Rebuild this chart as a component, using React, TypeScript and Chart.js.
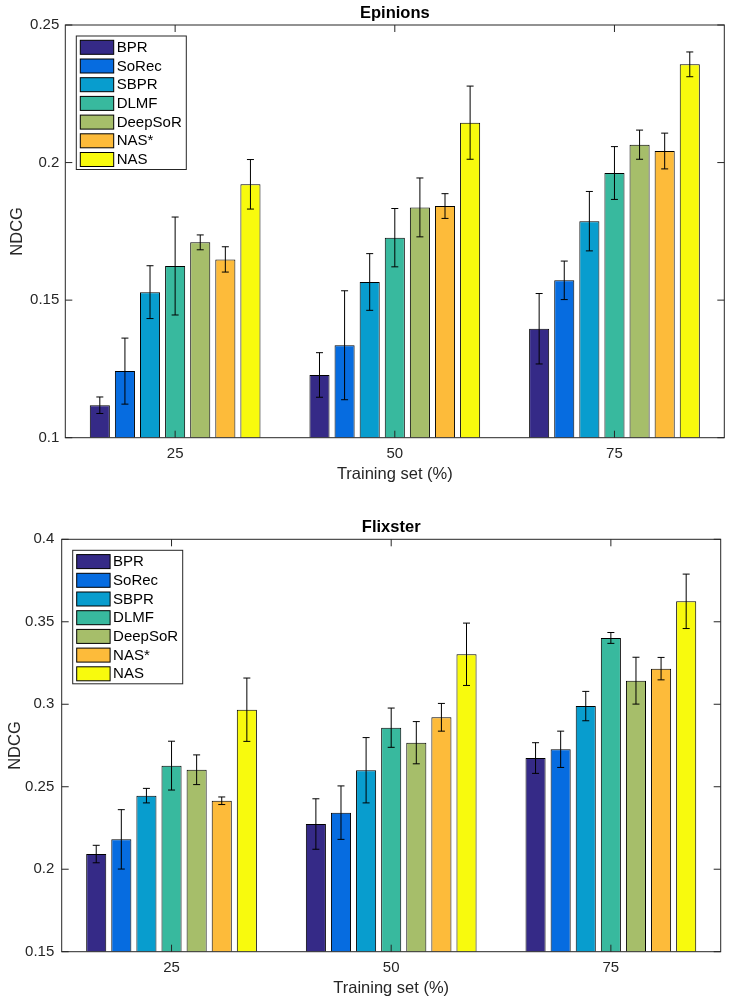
import { useEffect, useRef } from 'react';
import { Chart, registerables } from 'chart.js';

Chart.register(...registerables);

const FONT = '"Liberation Sans", Arial, Helvetica, sans-serif';
const INK = '#262626';

// Training-set sizes (x categories) and the compared methods
const categories = ['25', '50', '75'];
const methods = ['BPR', 'SoRec', 'SBPR', 'DLMF', 'DeepSoR', 'NAS*', 'NAS'];
const methodColors = ['#352A87', '#066CE0', '#089DCE', '#38B99E', '#A6BE6A', '#FDBB3A', '#F8FA0D'];

// Epinions: NDCG mean per method (rows) at 25/50/75 %, and the error-bar half widths
const epinionsMean = [
  [0.1118, 0.1228, 0.1396],
  [0.1242, 0.1336, 0.1572],
  [0.1529, 0.1566, 0.1787],
  [0.1624, 0.1727, 0.1962],
  [0.171, 0.1837, 0.2065],
  [0.1648, 0.1842, 0.2042],
  [0.1921, 0.2145, 0.2357],
];
const epinionsErr = [
  [0.003, 0.0081, 0.0128],
  [0.012, 0.0198, 0.007],
  [0.0096, 0.0103, 0.0108],
  [0.0178, 0.0106, 0.0096],
  [0.0027, 0.0107, 0.0053],
  [0.0046, 0.0045, 0.0065],
  [0.009, 0.0133, 0.0045],
];
const epinionsTicks = [0.1, 0.15, 0.2, 0.25];

// Flixster
const flixsterMean = [
  [0.2092, 0.2274, 0.2674],
  [0.2181, 0.2343, 0.2727],
  [0.2446, 0.26, 0.2989],
  [0.2628, 0.2858, 0.3402],
  [0.2603, 0.2767, 0.3143],
  [0.2415, 0.2921, 0.3216],
  [0.2967, 0.3303, 0.3624],
];
const flixsterErr = [
  [0.0053, 0.0153, 0.0093],
  [0.018, 0.0162, 0.011],
  [0.0044, 0.0198, 0.0089],
  [0.0148, 0.0119, 0.0033],
  [0.009, 0.0128, 0.0142],
  [0.0023, 0.0084, 0.0068],
  [0.0192, 0.0189, 0.0165],
];
const flixsterTicks = [0.15, 0.2, 0.25, 0.3, 0.35, 0.4];

const errorBars = {
  id: 'errorBars',
  afterDatasetsDraw(chart: any) {
    const ctx = chart.ctx;
    const ys = chart.scales.y;
    ctx.save();
    ctx.strokeStyle = '#000';
    ctx.lineWidth = 1;
    chart.data.datasets.forEach((ds: any, di: number) => {
      const meta = chart.getDatasetMeta(di);
      meta.data.forEach((el: any, i: number) => {
        const v = ds.data[i];
        const e = ds.errors[i];
        const hi = ys.getPixelForValue(v + e);
        const lo = ys.getPixelForValue(v - e);
        const x = el.x;
        ctx.beginPath();
        ctx.moveTo(x, hi);
        ctx.lineTo(x, lo);
        ctx.moveTo(x - 3.5, hi);
        ctx.lineTo(x + 3.5, hi);
        ctx.moveTo(x - 3.5, lo);
        ctx.lineTo(x + 3.5, lo);
        ctx.stroke();
      });
    });
    ctx.restore();
  },
};

const axesBox = {
  id: 'axesBox',
  afterDatasetsDraw(chart: any) {
    const ctx = chart.ctx;
    const { left, right, top, bottom } = chart.chartArea;
    const xs = chart.scales.x;
    const ys = chart.scales.y;
    const len = 7;
    ctx.save();
    ctx.strokeStyle = INK;
    ctx.lineWidth = 1;
    ctx.strokeRect(left, top, right - left, bottom - top);
    ctx.beginPath();
    ys.ticks.forEach((t: any) => {
      const py = ys.getPixelForValue(t.value);
      ctx.moveTo(left, py);
      ctx.lineTo(left + len, py);
      ctx.moveTo(right, py);
      ctx.lineTo(right - len, py);
    });
    xs.ticks.forEach((_t: any, i: number) => {
      const px = xs.getPixelForTick(i);
      ctx.moveTo(px, bottom);
      ctx.lineTo(px, bottom - len);
      ctx.moveTo(px, top);
      ctx.lineTo(px, top + len);
    });
    ctx.stroke();
    ctx.restore();
  },
};

const boxLegend = {
  id: 'boxLegend',
  afterDraw(chart: any) {
    const ctx = chart.ctx;
    const ca = chart.chartArea;
    const x0 = ca.left + 11;
    const y0 = ca.top + 11;
    const rowH = 18.7;
    const w = 110;
    const h = 133.5;
    ctx.save();
    ctx.fillStyle = '#fff';
    ctx.fillRect(x0, y0, w, h);
    ctx.strokeStyle = INK;
    ctx.lineWidth = 1;
    ctx.strokeRect(x0, y0, w, h);
    ctx.font = `15px ${FONT}`;
    ctx.textBaseline = 'middle';
    ctx.textAlign = 'left';
    chart.data.datasets.forEach((ds: any, i: number) => {
      const sy = y0 + 4.3 + i * rowH;
      ctx.fillStyle = ds.backgroundColor;
      ctx.fillRect(x0 + 4, sy, 33.4, 14);
      ctx.strokeStyle = '#000';
      ctx.strokeRect(x0 + 4, sy, 33.4, 14);
      ctx.fillStyle = '#000';
      ctx.fillText(ds.label, x0 + 40.4, sy + 7.5);
    });
    ctx.restore();
  },
};

type PanelProps = {
  title: string;
  means: number[][];
  errs: number[][];
  yTicks: number[];
  top: number;
  height: number;
  yAxisWidth: number;
  rightPad: number;
  bottomPad: number;
  titlePad: { top: number; bottom: number };
  yTickPad: number;
  yTitlePad: number;
};

function BarPanel(p: PanelProps) {
  const ref = useRef<HTMLCanvasElement | null>(null);

  useEffect(() => {
    if (!ref.current) return;
    const yMin = p.yTicks[0];
    const yMax = p.yTicks[p.yTicks.length - 1];
    const chart = new Chart(ref.current, {
      type: 'bar',
      data: {
        labels: categories,
        datasets: methods.map((m, i) => ({
          label: m,
          data: p.means[i],
          errors: p.errs[i],
          backgroundColor: methodColors[i],
          borderColor: '#000',
          borderWidth: 1,
          base: yMin,
          categoryPercentage: 0.8,
          barPercentage: 0.8,
        })) as any,
      },
      options: {
        responsive: false,
        animation: false,
        events: [],
        layout: { padding: { left: 0, right: p.rightPad, top: 0, bottom: p.bottomPad } },
        plugins: {
          legend: { display: false },
          tooltip: { enabled: false },
          title: {
            display: true,
            text: p.title,
            fullSize: false,
            color: '#000',
            font: { family: FONT, size: 16.5, weight: 'bold', lineHeight: 1.2 },
            padding: p.titlePad,
          },
        },
        scales: {
          x: {
            grid: { display: false, drawTicks: false },
            border: { display: false },
            afterFit: (scale: any) => {
              scale.height = 46.3;
            },
            ticks: { color: INK, font: { family: FONT, size: 15, lineHeight: 1.2 }, padding: 7.5, maxRotation: 0 },
            title: {
              display: true,
              text: 'Training set (%)',
              color: INK,
              font: { family: FONT, size: 16.5, lineHeight: 1.2 },
              padding: { top: 1, bottom: 0 },
            },
          },
          y: {
            min: yMin,
            max: yMax,
            grid: { display: false, drawTicks: false },
            border: { display: false },
            afterBuildTicks: (scale: any) => {
              scale.ticks = p.yTicks.map((v) => ({ value: v }));
            },
            afterFit: (scale: any) => {
              scale.width = p.yAxisWidth;
            },
            ticks: {
              color: INK,
              font: { family: FONT, size: 15, lineHeight: 1.2 },
              padding: p.yTickPad,
              callback: (v: any) => String(Number(v)),
            },
            title: {
              display: true,
              text: 'NDCG',
              color: INK,
              font: { family: FONT, size: 16.5, lineHeight: 1.2 },
              padding: { top: p.yTitlePad, bottom: 0 },
            },
          },
        },
      } as any,
      plugins: [errorBars, axesBox, boxLegend],
    });
    return () => chart.destroy();
  }, []);

  return (
    <canvas
      ref={ref}
      width={731}
      height={p.height}
      style={{ position: 'absolute', left: 0, top: p.top, width: 731, height: p.height }}
    />
  );
}

export default function App() {
  return (
    <div style={{ position: 'fixed', left: 0, top: 0, width: 731, height: 1002, background: '#fff', overflow: 'hidden' }}>
      <BarPanel
        title="Epinions"
        means={epinionsMean}
        errs={epinionsErr}
        yTicks={epinionsTicks}
        top={0}
        height={500}
        yAxisWidth={65.3}
        rightPad={6.7}
        bottomPad={16}
        titlePad={{ top: 3.1, bottom: 2.1 }}
        yTickPad={6}
        yTitlePad={7.5}
      />
      <BarPanel
        title="Flixster"
        means={flixsterMean}
        errs={flixsterErr}
        yTicks={flixsterTicks}
        top={500}
        height={502}
        yAxisWidth={61.7}
        rightPad={10.3}
        bottomPad={4}
        titlePad={{ top: 17.6, bottom: 1.9 }}
        yTickPad={7.4}
        yTitlePad={6}
      />
    </div>
  );
}
